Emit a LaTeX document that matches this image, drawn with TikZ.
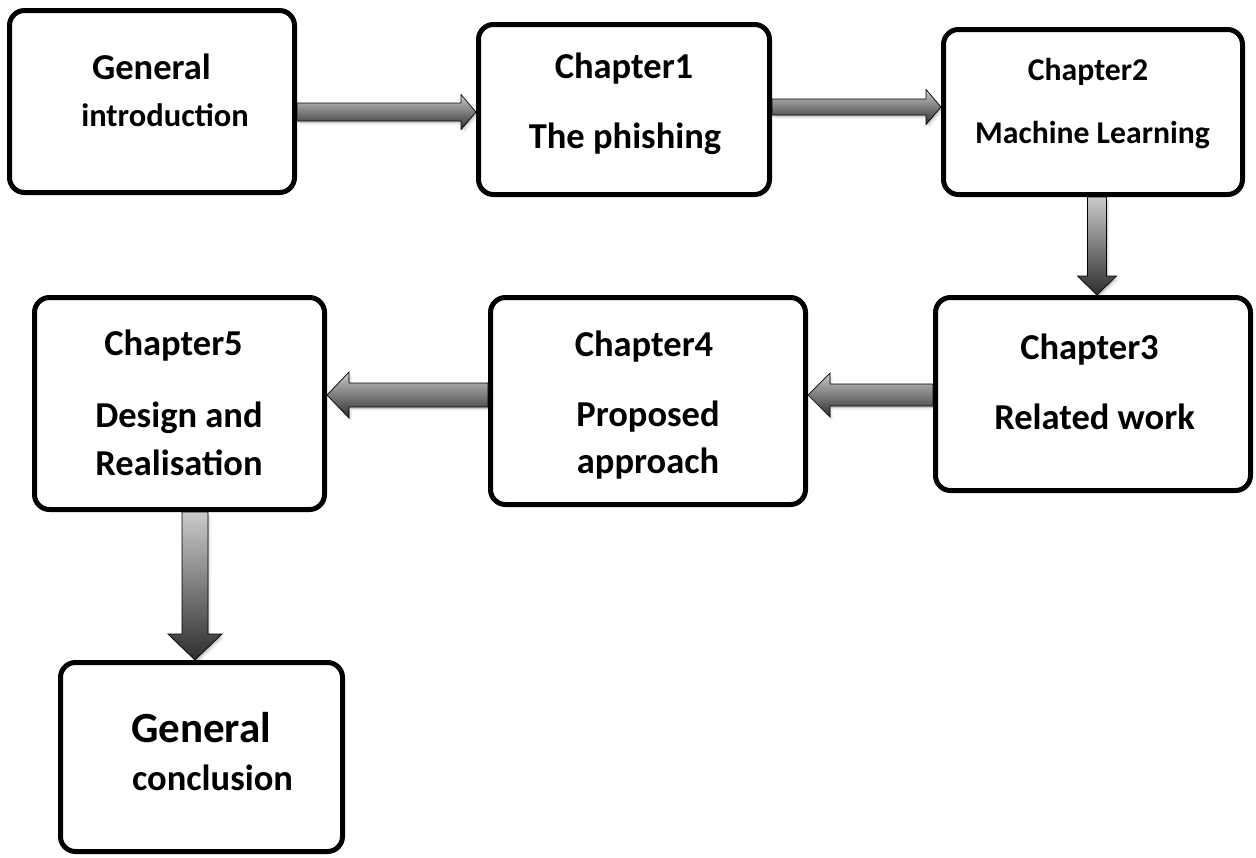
\documentclass[tikz,border=0pt]{standalone}
\usepackage{fontspec}
\setmainfont{Carlito}
\usetikzlibrary{shadows,calc}

\definecolor{arrowlight}{HTML}{CBCBCB}
\definecolor{arrowdark}{HTML}{2E2E2E}

\tikzset{
  box/.style={draw=black, line width=5pt, rounded corners=15pt, fill=white, inner sep=0pt},
  blockarrow/.style={draw=black, line width=0.7pt, line join=miter,
    top color=arrowlight, bottom color=arrowdark,
    drop shadow={opacity=0.14, shadow xshift=1.2pt, shadow yshift=-1.8pt, fill=black},
    drop shadow={opacity=0.08, shadow xshift=2.6pt, shadow yshift=-3.6pt, fill=black}},
  txtXL/.style={inner sep=0pt, anchor=base, font=\fontsize{43}{52}\selectfont\bfseries},
  txtL/.style={inner sep=0pt, anchor=base, font=\fontsize{36.5}{44}\selectfont\bfseries},
  txtM/.style={inner sep=0pt, anchor=base, font=\fontsize{32.5}{39}\selectfont\bfseries},
  txtS/.style={inner sep=0pt, anchor=base, font=\fontsize{31.7}{38}\selectfont\bfseries}
}

% block arrows between two boxes:
% #1 tail node, #2 tip node, #3 axis position, #4 shaft half-width, #5 head half-width, #6 head length
\newcommand\flowright[6]{%
  \path[blockarrow] let \p1=(#1.east), \p2=(#2.west) in
    (\x1,{-#3pt+#4pt}) -- ({\x2-#6pt},{-#3pt+#4pt}) -- ({\x2-#6pt},{-#3pt+#5pt})
    -- (\x2,{-#3pt}) -- ({\x2-#6pt},{-#3pt-#5pt}) -- ({\x2-#6pt},{-#3pt-#4pt})
    -- (\x1,{-#3pt-#4pt}) -- cycle;}
\newcommand\flowleft[6]{%
  \path[blockarrow] let \p1=(#1.west), \p2=(#2.east) in
    (\x1,{-#3pt+#4pt}) -- ({\x2+#6pt},{-#3pt+#4pt}) -- ({\x2+#6pt},{-#3pt+#5pt})
    -- (\x2,{-#3pt}) -- ({\x2+#6pt},{-#3pt-#5pt}) -- ({\x2+#6pt},{-#3pt-#4pt})
    -- (\x1,{-#3pt-#4pt}) -- cycle;}
\newcommand\flowdown[6]{%
  \path[blockarrow] let \p1=(#1.south), \p2=(#2.north) in
    ({#3pt-#4pt},\y1) -- ({#3pt-#4pt},{\y2+#6pt}) -- ({#3pt-#5pt},{\y2+#6pt})
    -- ({#3pt},\y2) -- ({#3pt+#5pt},{\y2+#6pt}) -- ({#3pt+#4pt},{\y2+#6pt})
    -- ({#3pt+#4pt},\y1) -- cycle;}

\begin{document}
\begin{tikzpicture}[x=1pt, y=-1pt]
\useasboundingbox (0,0) rectangle (1256,857);

% boxes
\node[box, minimum width=285pt, minimum height=182pt] (b1) at (152,101.5) {};
\node[box, minimum width=291pt, minimum height=170pt] (b2) at (624,109.5) {};
\node[box, minimum width=299pt, minimum height=165pt] (b3) at (1093,112) {};
\node[box, minimum width=315pt, minimum height=193pt] (b4) at (1093,394) {};
\node[box, minimum width=315pt, minimum height=207pt] (b5) at (648,401) {};
\node[box, minimum width=290pt, minimum height=212pt] (b6) at (179.5,403.5) {};
\node[box, minimum width=282pt, minimum height=189pt] (b7) at (201.5,757) {};

% labels
\node[txtL] (b1a) at (151.5,79) {General};
\node[txtM] (b1b) at (165,126) {introduction};

\node[txtL] (b2a) at (624,78) {Chapter1};
\node[txtL] (b2b) at (625,148) {The phishing};

\node[txtS] (b3a) at (1088,80) {Chapter2};
\node[txtS] (b3b) at (1092.5,143) {Machine Learning};

\node[txtL] (b4a) at (1089.5,359) {Chapter3};
\node[txtL] (b4b) at (1094.5,429) {Related work};

\node[txtL] (b5a) at (644,356) {Chapter4};
\node[txtL] (b5b) at (648,426) {Proposed};
\node[txtL] (b5c) at (648,473) {approach};

\node[txtL] (b6a) at (173.5,355) {Chapter5};
\node[txtL] (b6b) at (179,427) {Design and};
\node[txtL] (b6c) at (179,475) {Realisation};

\node[txtXL] (b7a) at (201,742) {General};
\node[txtL] (b7b) at (212.5,790) {conclusion};

% connectors
\flowright{b1}{b2}{112}{9}{17.5}{15}
\flowright{b2}{b3}{107}{8}{17.5}{15}
\flowdown{b3}{b4}{1097}{9.5}{19.5}{19}
\flowleft{b4}{b5}{395}{11}{22}{22}
\flowleft{b5}{b6}{395}{12}{23}{22}
\flowdown{b6}{b7}{195}{13}{27}{26}
\end{tikzpicture}
\end{document}
